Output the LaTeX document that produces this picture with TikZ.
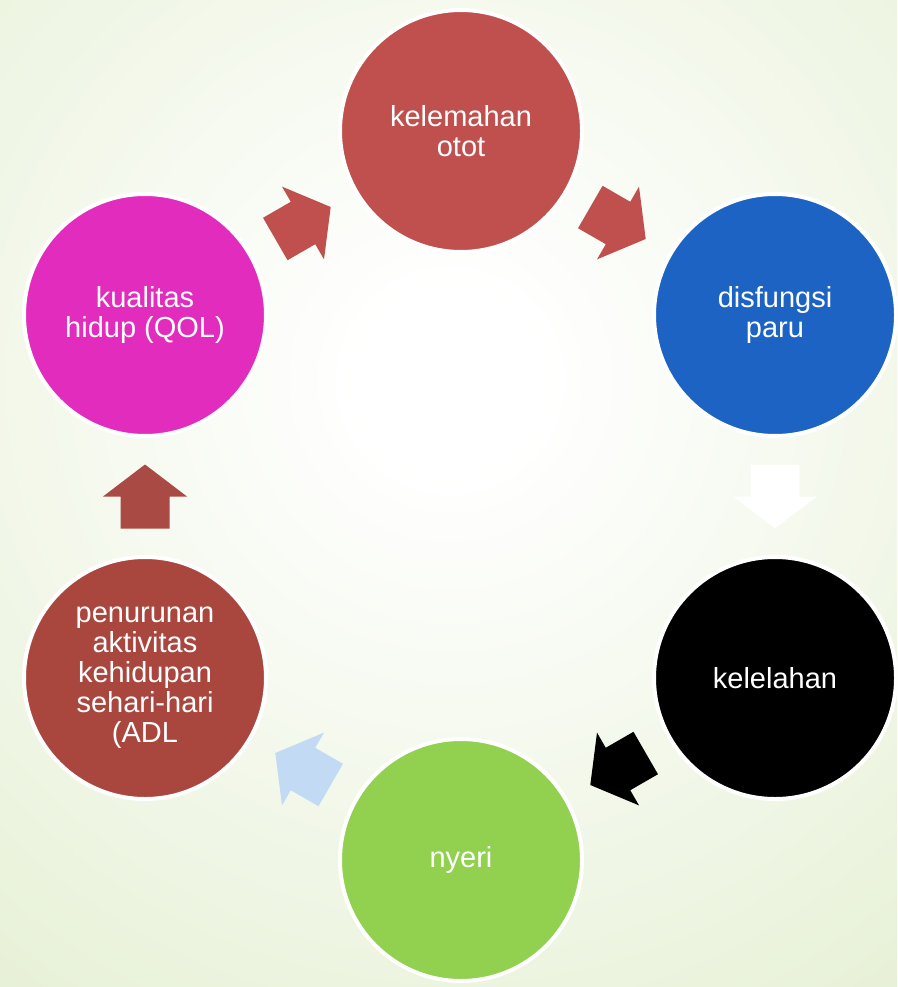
\documentclass[tikz,border=0pt]{standalone}
\usepackage{fontspec}
\setmainfont{Liberation Sans}
\usetikzlibrary{calc}

\definecolor{bgGreen}{HTML}{DDEBC6}
\definecolor{ototRed}{HTML}{C0504D}
\definecolor{paruBlue}{HTML}{1C63C4}
\definecolor{nyeriGreen}{HTML}{92D050}
\definecolor{adlRed}{HTML}{A9473F}
\definecolor{qolPink}{HTML}{E22CBE}
\definecolor{adlArrow}{HTML}{AA4A44}
\definecolor{nyeriArrow}{HTML}{C3DAF5}

\pgfdeclareradialshading{bgglow}{\pgfpoint{0bp}{0bp}}{color(0bp)=(white);color(3bp)=(white);color(34bp)=(bgGreen);color(50bp)=(bgGreen)}

\newcommand{\blockarrow}[4]{%
    \fill[#4,shift={($(#1)!0.5!(#2)$)},rotate=#3]
        (-32,-24.5) -- (0,-24.5) -- (0,-42) -- (32,0) -- (0,42) -- (0,24.5) -- (-32,24.5) -- cycle;}

\begin{document}
\begin{tikzpicture}[x=0.75pt,y=-0.75pt,
    bubble/.style={circle,draw=white,line width=3pt,minimum size=181.5pt,inner sep=0pt,
        text=white,align=center,font=\fontsize{21.75}{22.5}\selectfont}]
    \useasboundingbox (0,0) rectangle (897,987);
    \clip (0,0) rectangle (897,987);
    \shade[shading=bgglow] (-310,-380) rectangle (1210,1140);

    \node[bubble,fill=ototRed] (otot) at (461,131) {kelemahan\\otot};
    \node[bubble,fill=paruBlue] (paru) at (775,315) {disfungsi\\paru};
    \node[bubble,fill=black] (lelah) at (775,678) {kelelahan};
    \node[bubble,fill=nyeriGreen] (nyeri) at (461,860) {nyeri};
    \node[bubble,fill=adlRed] (adl) at (145,678) {penurunan\\aktivitas\\kehidupan\\sehari-hari\\(ADL};
    \node[bubble,fill=qolPink] (qol) at (145,315) {kualitas\\hidup (QOL)};

    \blockarrow{qol}{otot}{30}{ototRed}
    \blockarrow{otot}{paru}{-30}{ototRed}
    \blockarrow{paru}{lelah}{-90}{white}
    \blockarrow{lelah}{nyeri}{-150}{black}
    \blockarrow{nyeri}{adl}{150}{nyeriArrow}
    \blockarrow{adl}{qol}{90}{adlArrow}
\end{tikzpicture}
\end{document}
